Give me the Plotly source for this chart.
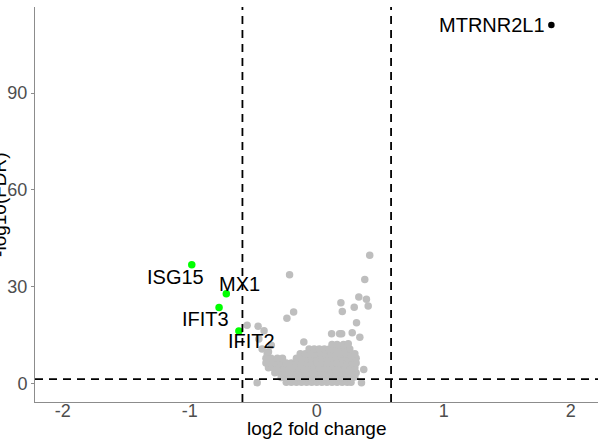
import plotly.graph_objects as go

# ---------------- data ----------------
# labelled genes
label_genes = ["ISG15", "MX1", "IFIT3", "IFIT2"]
label_lfc = [-0.984, -0.712, -0.769, -0.613]
label_fdr = [36.8, 27.8, 23.5, 16.2]

top_gene = ["MTRNR2L1"]
top_lfc = [1.847]
top_fdr = [111.1]

# scattered non-significant genes (outliers of the cloud)
grey_out_x = [-0.214, -0.182, -0.235, -0.548, -0.462, -0.415, -0.456, -0.358, -0.102, 0.117,
              -0.469, 0.417, 0.378, 0.331, 0.391, 0.405, 0.190, 0.201, 0.295, 0.313,
              0.279, 0.339, 0.196, 0.248, 0.370, 0.352, 0.300, 0.180, -0.430, -0.380]
grey_out_y = [33.7, 22.1, 20.2, 18.0, 17.7, 16.3, 13.7, 11.8, 12.8, 15.4,
              0.2, 39.7, 32.2, 26.8, 26.1, 24.0, 25.0, 22.3, 23.6, 18.8,
              15.7, 14.3, 15.4, 12.3, 4.3, 0.2, 2.0, 15.4, 10.6, 9.8]

# dense cloud of genes, read row by row (y level, x positions)
cloud_rows = [
    (0.3, [-0.24, -0.20, -0.16, -0.12, -0.08, -0.04, 0.00, 0.04, 0.08, 0.12, 0.16, 0.20, 0.24, 0.27]),
    (1.8, [-0.28, -0.24, -0.20, -0.16, -0.12, -0.08, -0.04, 0.00, 0.04, 0.08, 0.12, 0.16, 0.20, 0.24, 0.28]),
    (3.3, [-0.33, -0.29, -0.25, -0.21, -0.17, -0.13, -0.09, -0.05, -0.01, 0.03, 0.07, 0.11, 0.15, 0.19, 0.23, 0.27, 0.31]),
    (4.8, [-0.38, -0.34, -0.30, -0.26, -0.22, -0.18, -0.14, -0.10, -0.06, -0.02, 0.02, 0.06, 0.10, 0.14, 0.18, 0.22, 0.26, 0.30]),
    (6.3, [-0.40, -0.36, -0.32, -0.28, -0.24, -0.20, -0.16, -0.12, -0.08, -0.04, 0.00, 0.04, 0.08, 0.12, 0.16, 0.20, 0.24, 0.28, 0.31]),
    (7.8, [-0.40, -0.36, -0.31, -0.27, -0.16, -0.12, -0.08, -0.04, 0.00, 0.04, 0.08, 0.12, 0.16, 0.20, 0.24, 0.28, 0.31]),
    (9.2, [-0.39, -0.13, -0.09, -0.05, -0.01, 0.03, 0.07, 0.11, 0.15, 0.19, 0.23, 0.27, 0.30]),
    (10.6, [-0.06, -0.02, 0.02, 0.06, 0.10, 0.14, 0.18, 0.22, 0.26]),
    (12.0, [0.12, 0.16, 0.21]),
]

# thresholds
fc_cut = 0.585
fdr_cut = 1.3

x_ticks = [-2, -1, 0, 1, 2]
y_ticks = [0, 30, 60, 90]

# label offsets (pixels) relative to their points
label_xshift = [14, 13, -14, 13]
label_yshift = [-12, 10, -11, -10]
label_anchor = ["right", "center", "center", "center"]

# ---------------- figure ----------------
cloud_x = [x for y, xs in cloud_rows for x in xs]
cloud_y = [y for y, xs in cloud_rows for x in xs]

FONT = "Liberation Sans, Arial, sans-serif"

fig = go.Figure()
fig.add_trace(go.Scatter(x=cloud_x + grey_out_x, y=cloud_y + grey_out_y, mode="markers",
                         marker=dict(color="#BEBEBE", size=7.5, line=dict(width=0)),
                         hoverinfo="skip", showlegend=False))
fig.add_trace(go.Scatter(x=label_lfc, y=label_fdr, mode="markers",
                         marker=dict(color="#00FF00", size=7.5, line=dict(width=0)),
                         text=label_genes, showlegend=False))
fig.add_trace(go.Scatter(x=top_lfc, y=top_fdr, mode="markers",
                         marker=dict(color="black", size=6.5, line=dict(width=0)),
                         text=top_gene, showlegend=False))

dash = dict(color="black", width=1.8, dash="8px,6px")
for xv in (-fc_cut, fc_cut):
    fig.add_shape(type="line", xref="x", yref="paper", x0=xv, x1=xv, y0=0, y1=1, line=dash, layer="above")
fig.add_shape(type="line", xref="paper", yref="y", x0=0, x1=1, y0=fdr_cut, y1=fdr_cut, line=dash, layer="above")

for g, x, y, xs, ys, an in zip(label_genes, label_lfc, label_fdr, label_xshift, label_yshift, label_anchor):
    fig.add_annotation(x=x, y=y, text=g, showarrow=False, xanchor=an, yanchor="middle",
                       xshift=xs, yshift=ys, font=dict(family=FONT, size=20, color="black"))
fig.add_annotation(x=top_lfc[0], y=top_fdr[0], text=top_gene[0], showarrow=False,
                   xanchor="right", yanchor="middle", xshift=-4, yshift=0,
                   font=dict(family=FONT, size=20, color="black"))

# axis titles
fig.add_annotation(xref="paper", yref="paper", x=0.5, y=-0.066, text="log2 fold change",
                   showarrow=False, xanchor="center", yanchor="middle",
                   font=dict(family=FONT, size=19, color="black"))
fig.add_annotation(xref="paper", yref="paper", x=-0.041, y=0.5, text="-log10(FDR)",
                   showarrow=False, xanchor="right", yanchor="middle", textangle=-90,
                   font=dict(family=FONT, size=19, color="black"))

fig.update_layout(
    width=610, height=441,
    margin=dict(l=32, r=12, t=7, b=39),
    paper_bgcolor="white", plot_bgcolor="white",
    font=dict(family=FONT),
    showlegend=False,
)
fig.update_xaxes(range=[-2.218, 2.214], tickvals=x_ticks, ticktext=[str(v) for v in x_ticks],
                 showgrid=False, zeroline=False, showline=True, linecolor="#8c8c8c", linewidth=1,
                 ticks="", ticklabelstandoff=-8,
                 tickfont=dict(family=FONT, size=18, color="#4D4D4D"))
fig.update_yaxes(range=[-5.8, 116.7], tickvals=y_ticks, ticktext=[str(v) for v in y_ticks],
                 showgrid=False, zeroline=False, showline=True, linecolor="#8c8c8c", linewidth=1,
                 ticks="outside", ticklen=3, tickcolor="#8c8c8c",
                 tickfont=dict(family=FONT, size=18, color="#4D4D4D"))

fig.write_html("out.html")
